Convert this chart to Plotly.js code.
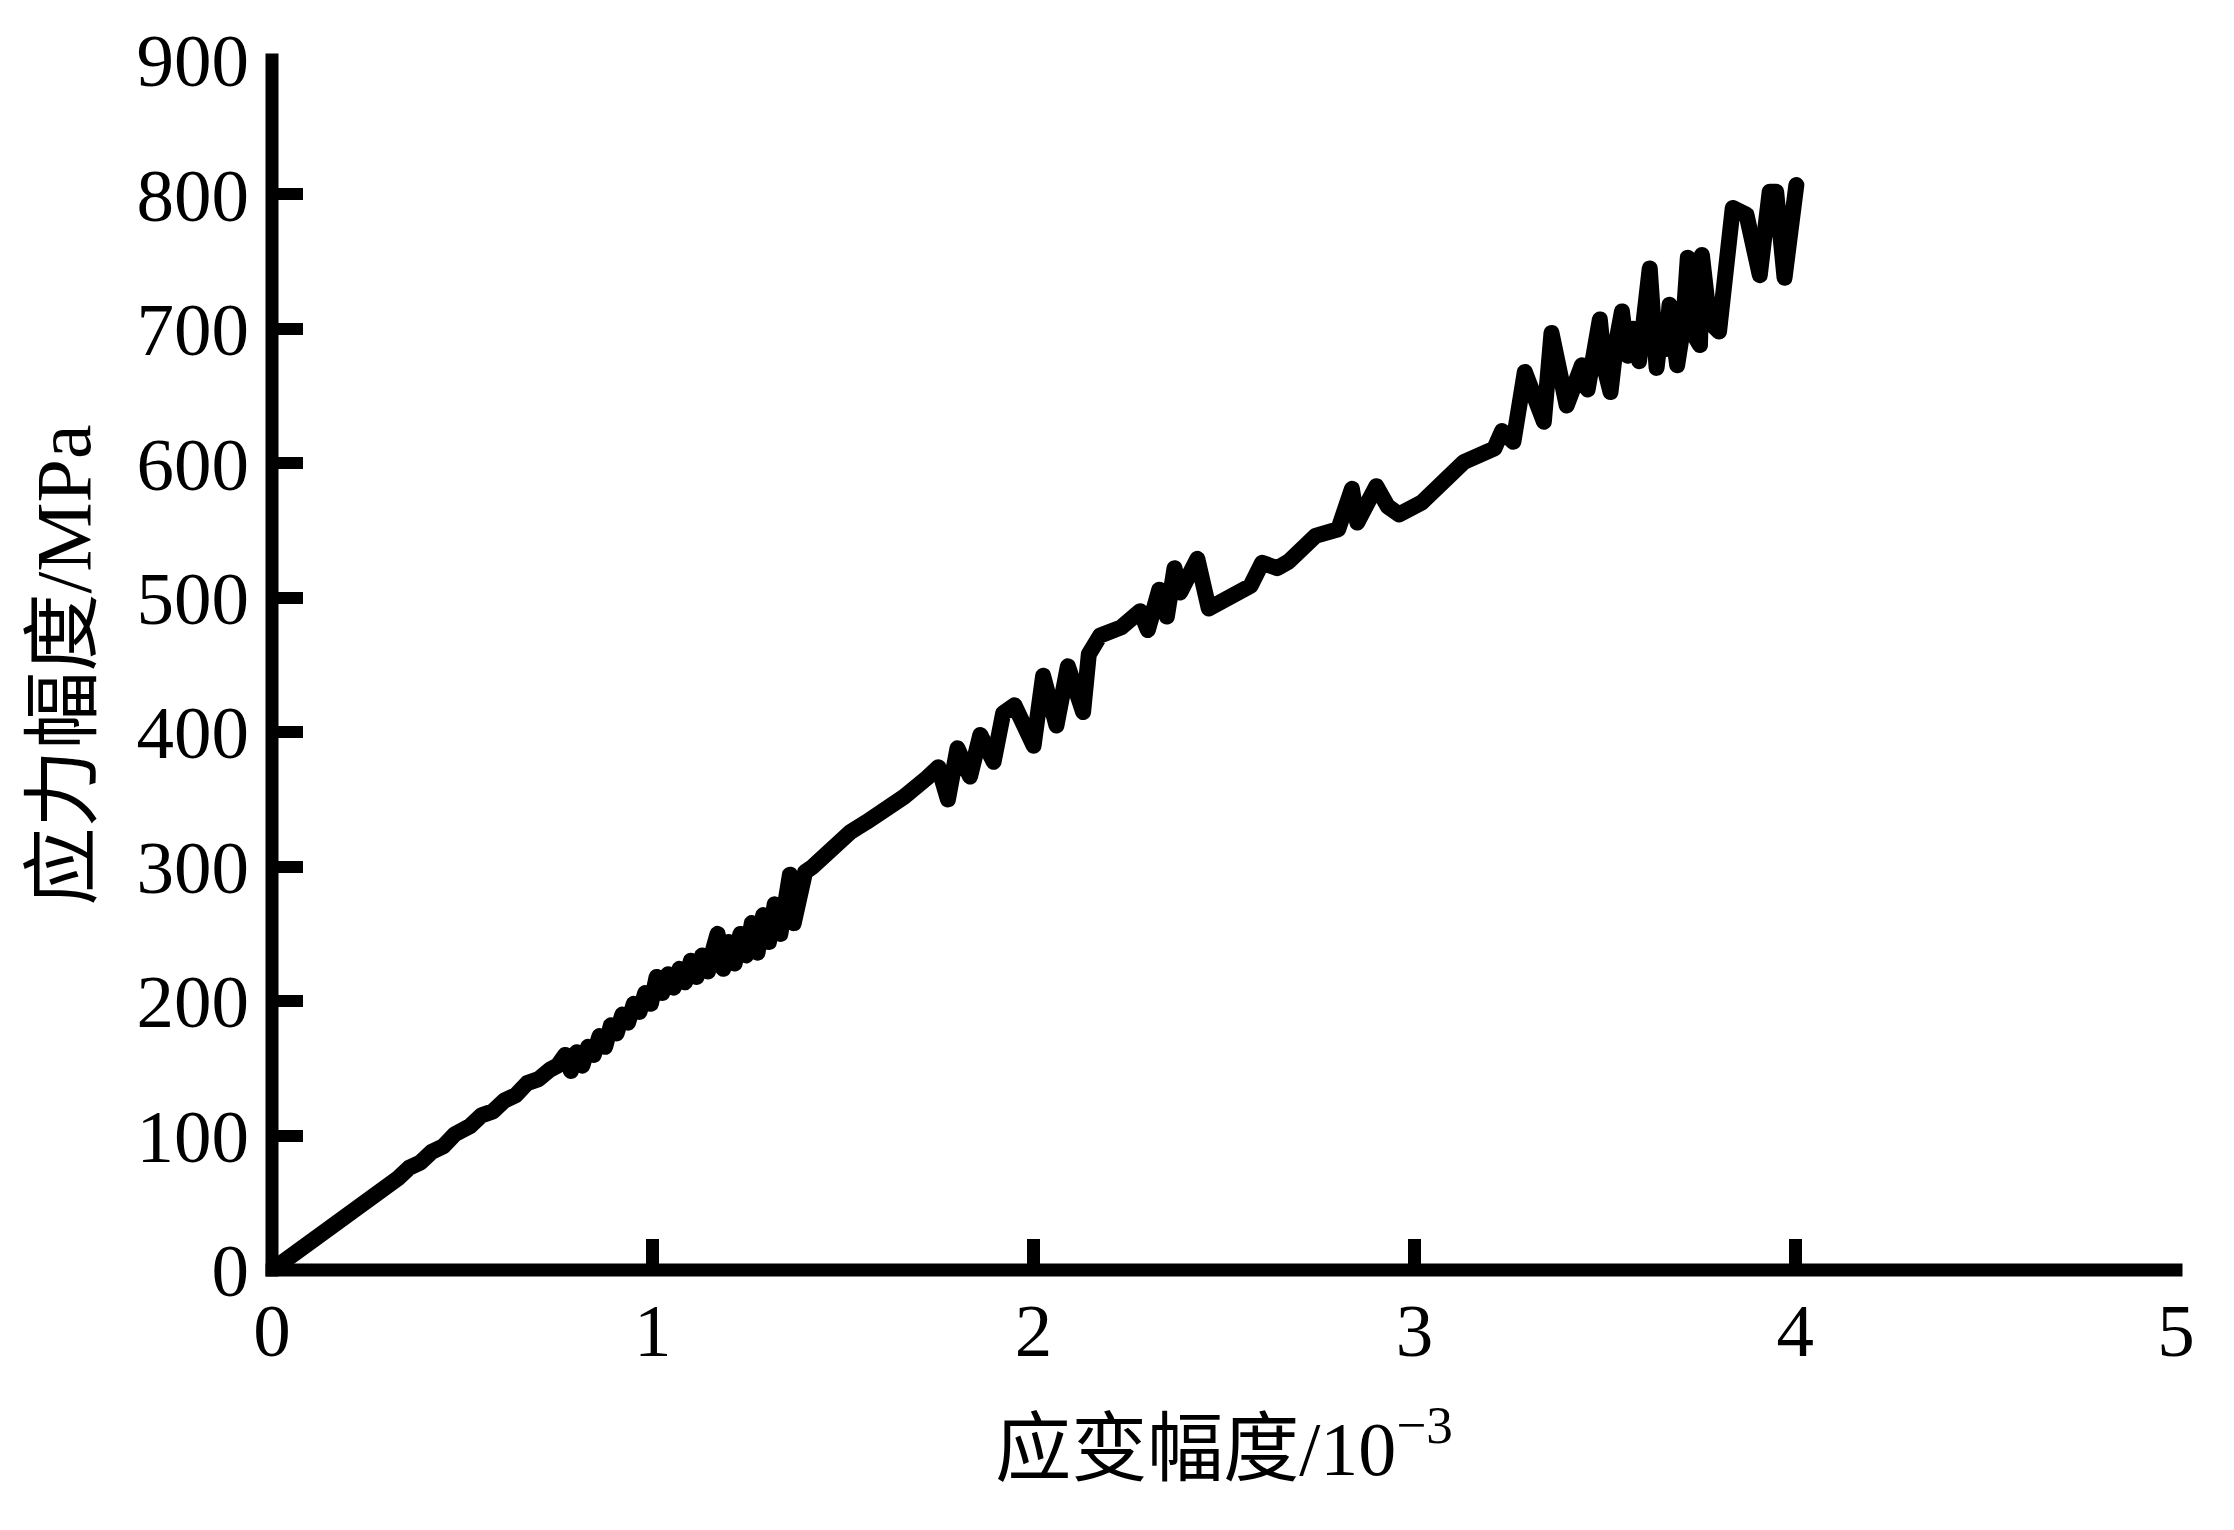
<!DOCTYPE html>
<html>
<head>
<meta charset="utf-8">
<script src="https://cdn.plot.ly/plotly-3.0.1.min.js"></script>
<style>
html,body{margin:0;padding:0;background:#fff;}
#chart{width:2234px;height:1530px;}
.scatterlayer path.js-line{stroke-linejoin:round !important;stroke-linecap:round !important;}
</style>
</head>
<body>
<div id="chart"></div>
<script>
// strain amplitude (10^-3)
const strain = [
  0, 0.05, 0.10, 0.15, 0.20, 0.25, 0.30, 0.33, 0.36, 0.39,
  0.42, 0.45, 0.48, 0.50, 0.52, 0.55, 0.58, 0.61, 0.64, 0.67,
  0.70, 0.73, 0.75, 0.77, 0.785, 0.80, 0.815, 0.83, 0.845, 0.86,
  0.875, 0.89, 0.905, 0.92, 0.935, 0.95, 0.965, 0.98, 0.995, 1.01,
  1.025, 1.04, 1.055, 1.07, 1.085, 1.10, 1.115, 1.13, 1.145, 1.16,
  1.17, 1.185, 1.20, 1.215, 1.23, 1.245, 1.26, 1.275, 1.29, 1.305,
  1.32, 1.335, 1.35, 1.36, 1.37, 1.385, 1.40, 1.42, 1.47, 1.52,
  1.56, 1.60, 1.66, 1.72, 1.75, 1.775, 1.80, 1.833, 1.86, 1.895,
  1.92, 1.95, 2.00, 2.025, 2.06, 2.09, 2.13, 2.145, 2.175, 2.23,
  2.28, 2.30, 2.33, 2.35, 2.37, 2.385, 2.43, 2.46, 2.50, 2.57,
  2.60, 2.64, 2.67, 2.74, 2.80, 2.836, 2.85, 2.90, 2.93, 2.96,
  3.02, 3.075, 3.13, 3.21, 3.23, 3.26, 3.29, 3.34, 3.36, 3.40,
  3.42, 3.44, 3.455, 3.47, 3.487, 3.50, 3.515, 3.53, 3.545, 3.56,
  3.575, 3.59, 3.605, 3.618, 3.636, 3.65, 3.66, 3.67, 3.69, 3.705,
  3.718, 3.735, 3.75, 3.755, 3.775, 3.80, 3.836, 3.872, 3.907, 3.933,
  3.95, 3.972, 4.003
];
// stress amplitude (MPa)
const stress = [
  0, 10, 21, 31, 42, 52, 63, 68, 76, 80,
  88, 92, 101, 104, 107, 115, 118, 126, 130, 139,
  142, 149, 152, 160, 148, 162, 152, 166, 160, 174,
  166, 182, 176, 190, 184, 198, 192, 206, 198, 218,
  206, 220, 210, 224, 214, 230, 218, 234, 222, 240,
  250, 224, 244, 228, 250, 234, 258, 236, 264, 244,
  272, 250, 280, 294, 258, 286, 296, 300, 315, 326,
  333, 340, 352, 366, 374, 350, 388, 367, 398, 378,
  414, 420, 390, 442, 405, 449, 415, 458, 472, 478,
  490, 476, 506, 486, 522, 504, 529, 492, 497, 509,
  526, 522, 527, 546, 551, 581, 556, 583, 568, 562,
  571, 585, 601, 611, 624, 616, 668, 631, 697, 643,
  660, 673, 655, 690, 707, 670, 653, 690, 713, 680,
  700, 676, 705, 745, 671, 705, 685, 718, 673, 700,
  753, 695, 688, 755, 705, 698, 790, 785, 740, 802,
  802, 738, 807
];
const xTicks = [0, 1, 2, 3, 4, 5];
const yTicks = [0, 100, 200, 300, 400, 500, 600, 700, 800, 900];
const xTitle = '应变幅度/10<sup>−3</sup>';
const yTitle = '应力幅度/MPa';

const serif = 'Liberation Serif, "Noto Sans CJK SC", serif';
const L = 271.5, R = 2176, T = 59.5, B = 1270;
const W = 2234, H = 1530;
const padX = 6.5 / (R - L), padY = 6.5 / (B - T);

const trace = {
  x: strain, y: stress, type: 'scatter', mode: 'lines',
  line: {color: '#000', width: 16, shape: 'linear'},
  hoverinfo: 'skip', showlegend: false
};

const layout = {
  width: W, height: H,
  paper_bgcolor: '#fff', plot_bgcolor: '#fff',
  margin: {l: L, r: W - R, t: T, b: H - B, pad: 0},
  showlegend: false,
  font: {family: serif, color: '#000', size: 75},
  xaxis: {
    range: [0, 5], tickvals: xTicks, ticktext: xTicks.map(String),
    showgrid: false, zeroline: false, showline: false,
    ticks: 'inside', ticklen: 31, tickwidth: 13, tickcolor: '#000',
    tickfont: {family: serif, size: 75, color: '#000'},
    ticklabelstandoff: 10,
    title: {text: xTitle, font: {family: serif, size: 76, color: '#000'}, standoff: 50},
    automargin: false
  },
  yaxis: {
    range: [0, 900], tickvals: yTicks, ticktext: yTicks.map(String),
    showgrid: false, zeroline: false, showline: false,
    ticks: 'inside', ticklen: 31, tickwidth: 12, tickcolor: '#000',
    tickfont: {family: serif, size: 75, color: '#000'},
    ticklabelstandoff: 22,
    title: {text: yTitle, font: {family: serif, size: 78, color: '#000'}, standoff: 20},
    automargin: false
  },
  shapes: [
    {type: 'line', xref: 'paper', yref: 'paper', x0: 0, x1: 0, y0: -padY, y1: 1 + padY,
     line: {color: '#000', width: 13}, layer: 'above'},
    {type: 'line', xref: 'paper', yref: 'paper', x0: -padX, x1: 1 + padX, y0: 0, y1: 0,
     line: {color: '#000', width: 13}, layer: 'above'}
  ]
};

Plotly.newPlot('chart', [trace], layout, {staticPlot: true, displayModeBar: false});
</script>
</body>
</html>
